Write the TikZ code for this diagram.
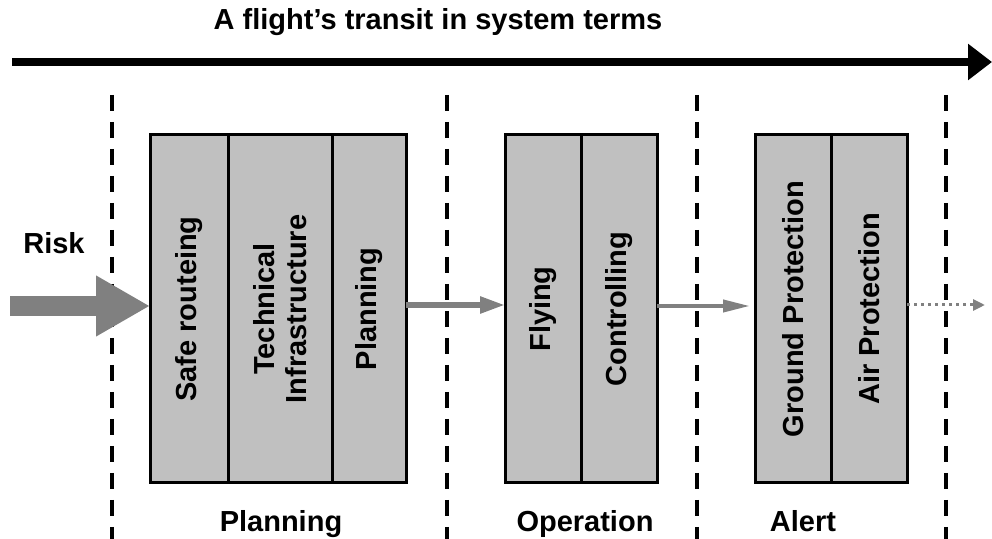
\documentclass[tikz,border=0pt]{standalone}
\usepackage{fontspec}
\setmainfont{Liberation Sans}
\usetikzlibrary{positioning,arrows.meta}
\definecolor{boxgray}{RGB}{192,192,192}
\definecolor{flowgray}{RGB}{128,128,128}
\begin{document}
\begin{tikzpicture}[x=0.5pt,y=-0.5pt,
  cell/.style={draw, line width=1.5pt, fill=boxgray, minimum height=174pt,
    inner sep=0pt, outer sep=0pt},
  lbl/.style={font=\fontsize{14.5}{16}\selectfont\bfseries},
  vlbl/.style={lbl, rotate=90, align=center},
  phase/.style={line width=2pt, dash pattern=on 8pt off 5.5pt},
  flow/.style={flowgray, line width=2.75pt, -{Triangle[length=12.5pt,width=8pt]}}]
\useasboundingbox (0,0) rectangle (992,539);

\node[lbl] (title) at (438,22) {A flight’s transit in system terms};
\coordinate (tstart) at (12,62);
\coordinate (tend) at (992,62);
\draw[line width=4pt, -{Triangle[length=12pt,width=17.5pt]}] (tstart) -- (tend);

\foreach \x in {112,447,697,946}
  \draw[phase] (\x,95) -- (\x,539);

\node[cell, minimum width=39pt, anchor=north west] (safe) at (150,135) {};
\node[cell, minimum width=52pt, right=0pt of safe] (tech) {};
\node[cell, minimum width=37pt, right=0pt of tech] (plan) {};
\node[cell, minimum width=38pt, anchor=north west] (fly) at (505,135) {};
\node[cell, minimum width=38pt, right=0pt of fly] (ctrl) {};
\node[cell, minimum width=38pt, anchor=north west] (ground) at (755,135) {};
\node[cell, minimum width=38pt, right=0pt of ground] (air) {};

\node[vlbl] (safetxt) at (safe) {Safe routeing};
\node[vlbl] (techtxt) at (tech) {Technical\\Infrastructure};
\node[vlbl] (plantxt) at (plan) {Planning};
\node[vlbl] (flytxt) at (fly) {Flying};
\node[vlbl] (ctrltxt) at (ctrl) {Controlling};
\node[vlbl] (groundtxt) at (ground) {Ground Protection};
\node[vlbl] (airtxt) at (air) {Air Protection};

\node[lbl] (risk) at (54,243) {Risk};
\coordinate (riskin) at (10,306);
\draw[flowgray, line width=10pt, -{Triangle[length=27pt,width=28.5pt]}] (riskin) -- (riskin -| safe.west);

\draw[flow] ([yshift=2pt]plan.east) -- ([yshift=2pt]fly.west);
\draw[flow, line width=2pt, -{Triangle[length=13.5pt,width=6pt]}] ([yshift=1.5pt]ctrl.east) -- ([shift={(-2.5pt,1.5pt)}]ground.west);
\coordinate (out) at (985,305);
\draw[flowgray, line width=1.5pt, dotted, -{Triangle[length=6pt,width=5.5pt]}] (air.east |- out) -- (out);

\node[lbl, anchor=base] (planphase) at (281,532) {Planning};
\node[lbl, anchor=base] (opphase) at (585,532) {Operation};
\node[lbl, anchor=base] (alertphase) at (803,532) {Alert};
\end{tikzpicture}
\end{document}
